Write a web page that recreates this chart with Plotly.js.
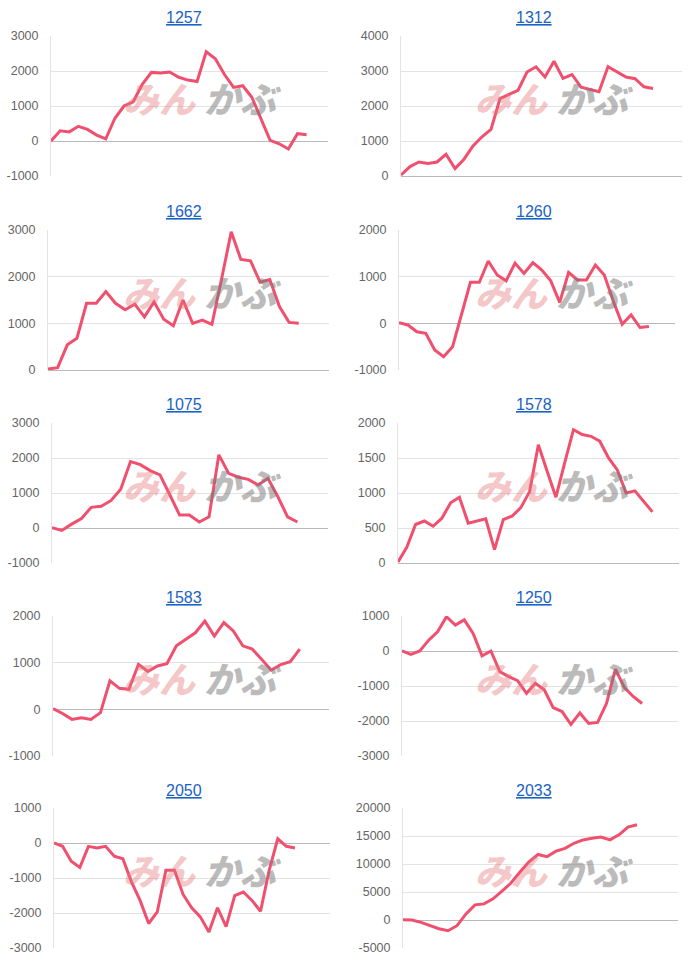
<!DOCTYPE html>
<html><head><meta charset="utf-8">
<script src="https://cdn.plot.ly/plotly-3.0.1.min.js"></script>
<style>html,body{margin:0;padding:0;background:#fff}#chart{width:700px;height:963px}</style>
</head><body><div id="chart"></div>
<script>
// ---- data ----
const codes = ['1257','1312','1662','1260','1075','1578','1583','1250','2050','2033'];
const v1257 = [0, 290, 260, 420, 330, 170, 60, 650, 1000, 1120, 1620, 1960, 1940, 1970, 1820, 1740, 1700, 2550, 2350, 1900, 1530, 1580, 1250, 620, 20, -80, -230, 210, 180];
const v1312 = [30, 270, 400, 360, 400, 620, 210, 480, 860, 1120, 1330, 2210, 2330, 2450, 2970, 3120, 2830, 3280, 2790, 2900, 2540, 2480, 2410, 3120, 2970, 2830, 2780, 2550, 2500];
const v1662 = [20, 50, 540, 680, 1430, 1430, 1680, 1430, 1290, 1410, 1140, 1460, 1090, 950, 1500, 1000, 1070, 980, 1950, 2960, 2370, 2340, 1880, 1940, 1360, 1020, 1000];
const v1260 = [15, -35, -180, -215, -570, -715, -500, 180, 880, 880, 1335, 1035, 910, 1290, 1070, 1300, 1140, 910, 450, 1090, 930, 930, 1250, 1035, 480, -20, 180, -90, -70];
const v1075 = [10, -70, 110, 270, 590, 620, 780, 1110, 1900, 1810, 1640, 1520, 950, 370, 370, 170, 320, 2090, 1560, 1450, 1390, 1230, 1420, 900, 320, 170];
const v1578 = [15, 225, 550, 600, 525, 640, 860, 940, 570, 600, 630, 190, 620, 670, 790, 1020, 1690, 1310, 940, 1430, 1905, 1835, 1810, 1740, 1500, 1330, 1000, 1030, 880, 730];
const v1583 = [15, -90, -215, -180, -215, -70, 610, 450, 430, 965, 810, 930, 980, 1360, 1500, 1640, 1890, 1570, 1860, 1680, 1360, 1290, 1070, 840, 960, 1020, 1290];
const v1250 = [0, -95, 0, 310, 550, 980, 740, 890, 500, -140, 0, -590, -730, -850, -1210, -920, -1110, -1620, -1730, -2100, -1770, -2070, -2040, -1500, -520, -1040, -1300, -1500];
const v2050 = [0, -95, -520, -700, -95, -140, -95, -380, -450, -1110, -1640, -2300, -1970, -780, -780, -1470, -1850, -2110, -2540, -1850, -2390, -1500, -1400, -1640, -1950, -780, 120, -95, -140];
const v2033 = [60, 0, -420, -1020, -1560, -1920, -1020, 1080, 2700, 2880, 3780, 5160, 6600, 8580, 10400, 11700, 11300, 12300, 12800, 13700, 14300, 14600, 14800, 14300, 15200, 16600, 17000];
const series = [v1257, v1312, v1662, v1260, v1075, v1578, v1583, v1250, v2050, v2033];
const yRanges = [[-1000,3000],[0,4000],[0,3000],[-1000,2000],[-1000,3000],[0,2000],[-1000,2000],[-3000,1000],[-3000,1000],[-5000,20000]];
const yTicks = [1000,1000,1000,1000,1000,500,1000,1000,1000,5000];

// ---- layout config (pixels) ----
const W = 700, H = 963;
const xPix = [[51,328],[401,682],[48,329],[399,675],[52,328],[398,679],[53,329],[402,678],[54,330],[403,678]];
const xSpan = [30.34, 31.22, 29.14, 30.92, 28.12, 32.03, 29.08, 31.04, 32.07, 30.56];
const rowTop = [36, 230, 423, 616, 808];
const plotH = 140;
const titleY = [17, 211, 404, 597, 790];
const titleX = [184, 534];
const logoX = [199, 551];

const lineColor = '#f0506e';
const traces = [];
const layout = {
  width: W, height: H, showlegend: false,
  margin: {l:0, r:0, t:0, b:0},
  paper_bgcolor: '#fff', plot_bgcolor: '#fff',
  font: {family: 'Liberation Sans, Arial, sans-serif', color: '#666'},
  annotations: []
};

series.forEach((vals, i) => {
  const n = i === 0 ? '' : String(i + 1);
  const row = Math.floor(i / 2), col = i % 2;
  const top = rowTop[row];
  const tv = [];
  for (let t = yRanges[i][0]; t <= yRanges[i][1]; t += yTicks[i]) tv.push(t);
  traces.push({
    type: 'scatter', mode: 'lines',
    x: vals.map((_, k) => k), y: vals,
    xaxis: 'x' + n, yaxis: 'y' + n,
    line: {color: lineColor, width: 3, shape: 'linear'},
    hoverinfo: 'skip'
  });
  layout['xaxis' + n] = {
    domain: [xPix[i][0] / W, xPix[i][1] / W],
    range: [0, xSpan[i]],
    anchor: 'y' + n,
    showgrid: false, zeroline: false, showticklabels: false, showline: false, ticks: '',
    fixedrange: true
  };
  layout['yaxis' + n] = {
    domain: [1 - (top + plotH) / H, 1 - top / H],
    range: yRanges[i],
    tickmode: 'array', tickvals: tv, ticktext: tv.map(String),
    anchor: 'x' + n,
    showgrid: true, gridcolor: '#e3e3e3', gridwidth: 1,
    zeroline: true, zerolinecolor: '#b9b9b9', zerolinewidth: 1,
    showline: true, linecolor: '#e3e3e3', linewidth: 1,
    ticks: 'outside', ticklen: 9, tickcolor: 'rgba(0,0,0,0)',
    tickfont: {size: 12.5, color: '#666', family: 'Liberation Sans, Arial, sans-serif'},
    fixedrange: true
  };
  // title
  layout.annotations.push({
    xref: 'paper', yref: 'paper',
    x: titleX[col] / W, y: 1 - titleY[row] / H,
    xanchor: 'center', yanchor: 'middle',
    text: '<u>' + codes[i] + '</u>', showarrow: false,
    font: {size: 16, color: '#1a62c4', family: 'Liberation Sans, Arial, sans-serif'}
  });
  // watermark
  const ly = 1 - (top + 61) / H;
  layout.annotations.push({
    xref: 'paper', yref: 'paper', x: logoX[col] / W, y: ly,
    xanchor: 'right', yanchor: 'middle', showarrow: false,
    text: 'みん',
    font: {size: 36, color: 'rgba(228,120,120,0.42)', family: 'Noto Sans CJK JP', weight: 900, style: 'italic'}
  });
  layout.annotations.push({
    xref: 'paper', yref: 'paper', x: (logoX[col] + 3) / W, y: ly,
    xanchor: 'left', yanchor: 'middle', showarrow: false,
    text: 'かぶ',
    font: {size: 36, color: 'rgba(120,120,120,0.5)', family: 'Noto Sans CJK JP', weight: 900, style: 'italic'}
  });
});

Plotly.newPlot('chart', traces, layout, {staticPlot: true, displayModeBar: false});
</script>
</body></html>
